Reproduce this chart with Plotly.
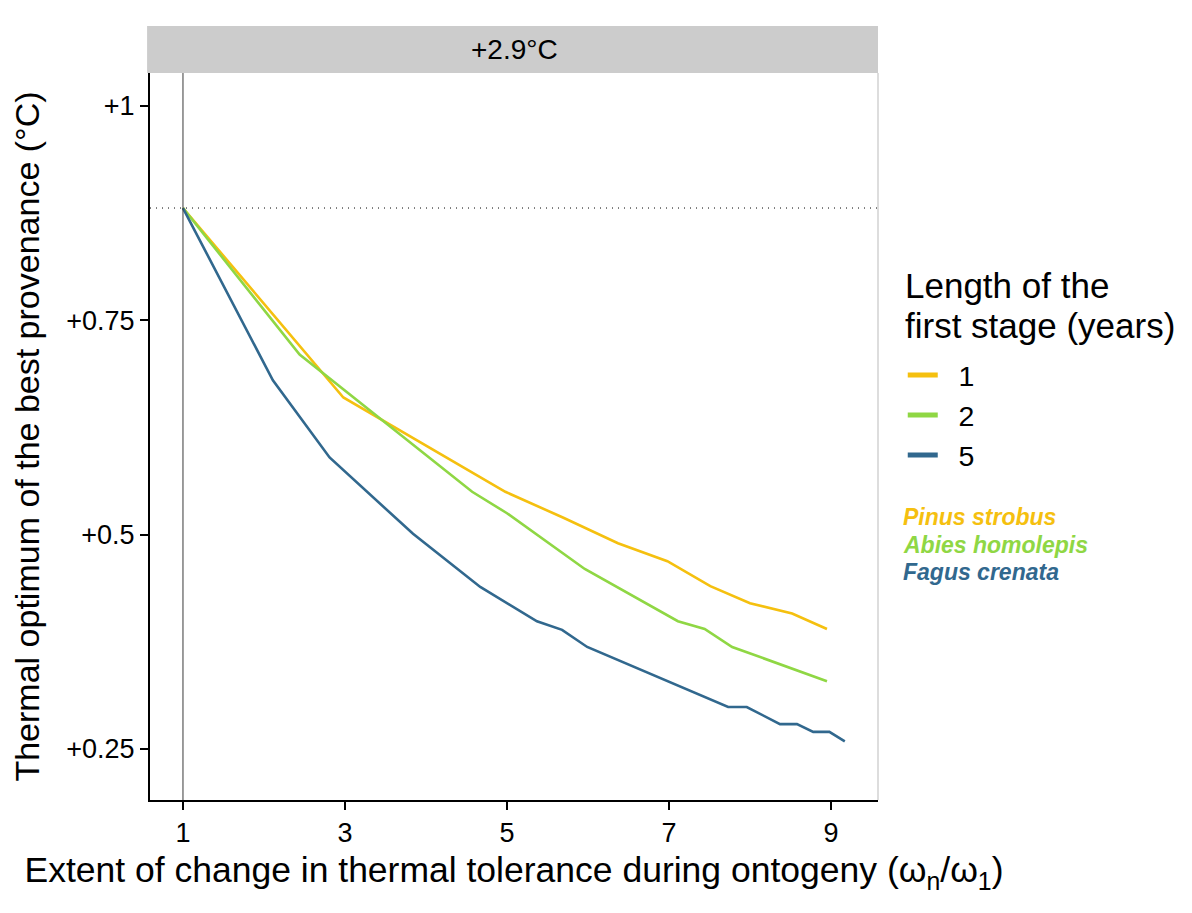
import plotly.graph_objects as go

# Extent of change in thermal tolerance (omega_n / omega_1) and thermal optimum
x_pinus = [1, 2.98, 4.98, 5.69, 6.37, 6.98, 7.51, 8.0, 8.52, 8.95]
y_pinus = [0.881, 0.660, 0.550, 0.520, 0.490, 0.469, 0.440, 0.420, 0.408, 0.390]

x_abies = [1, 2.44, 4.57, 5.0, 5.96, 7.11, 7.44, 7.78, 8.95]
y_abies = [0.881, 0.710, 0.550, 0.525, 0.460, 0.399, 0.390, 0.369, 0.329]

x_fagus = [1, 2.11, 2.81, 3.84, 4.67, 5.37, 5.68, 5.99, 7.73, 7.96, 8.37, 8.58, 8.78, 8.98, 9.17]
y_fagus = [0.881, 0.680, 0.590, 0.501, 0.439, 0.399, 0.389, 0.369, 0.299, 0.299,
           0.279, 0.279, 0.270, 0.270, 0.259]

stage_lengths = ['1', '2', '5']
species = ['Pinus strobus', 'Abies homolepis', 'Fagus crenata']
colors = ['#F5C00F', '#8FD744', '#31688E']

ref_optimum = 0.881
x_ticks = [1, 3, 5, 7, 9]
y_ticks = [1, 0.75, 0.5, 0.25]
y_tick_labels = ['+1', '+0.75', '+0.5', '+0.25']
panel_label = '+2.9°C'
legend_title = ['Length of the', 'first stage (years)']

FONT = 'Liberation Sans, Arial, Helvetica, sans-serif'

fig = go.Figure()

# reference lines
fig.add_vline(x=1, line=dict(color='#3A3A3A', width=1))
fig.add_hline(y=ref_optimum, line=dict(color='black', width=1, dash='1px,5px'))

series = [(x_pinus, y_pinus), (x_abies, y_abies), (x_fagus, y_fagus)]
for (xs, ys), name, col in zip(series, stage_lengths, colors):
    fig.add_trace(go.Scatter(
        x=xs, y=ys, mode='lines', name=name, showlegend=False,
        line=dict(color=col, width=2.6)
    ))
    # legend-only entry with a thicker key
    fig.add_trace(go.Scatter(
        x=[None], y=[None], mode='lines', name='\u00a0\u00a0' + name,
        line=dict(color=col, width=5)
    ))

# facet strip
fig.add_shape(type='rect', xref='paper', yref='paper',
              x0=-0.004, x1=1.0, y0=1.0, y1=1.0646,
              fillcolor='#CCCCCC', line=dict(width=0), layer='below')
fig.add_annotation(text=panel_label, xref='paper', yref='paper',
                   x=0.5, y=1.033, xanchor='center', yanchor='middle',
                   showarrow=False,
                   font=dict(size=28, color='black', family=FONT))

# right panel border
fig.add_shape(type='line', xref='paper', yref='paper',
              x0=1.0, x1=1.0, y0=0, y1=1.0,
              line=dict(color='#DDDDDD', width=2))

# legend title, two lines
for i, line in enumerate(legend_title):
    fig.add_annotation(text=line, xref='paper', yref='paper',
                       x=1.035, y=(515 - 40 * i) / 727,
                       xanchor='left', yanchor='middle', showarrow=False,
                       font=dict(size=35, color='black', family=FONT))

# species labels under the legend
for i, (sp, col) in enumerate(zip(species, colors)):
    fig.add_annotation(text=f'<b><i>{sp}</i></b>', xref='paper', yref='paper',
                       x=1.032, y=(283 - 27.5 * i) / 727,
                       xanchor='left', yanchor='middle', showarrow=False,
                       font=dict(size=23, color=col, family=FONT))

fig.update_layout(
    width=1192, height=913,
    margin=dict(l=142, r=322, t=65, b=121),
    paper_bgcolor='white', plot_bgcolor='white',
    font=dict(family=FONT, color='black'),
    showlegend=True,
    legend=dict(
        font=dict(size=28.5, family=FONT),
        x=1.034, y=0.619, xanchor='left', yanchor='top',
        bgcolor='rgba(0,0,0,0)'
    ),
    xaxis=dict(
        range=[0.593, 9.58], tickvals=x_ticks,
        showgrid=False, zeroline=False,
        showline=True, linecolor='black', linewidth=2,
        ticks='outside', ticklen=8, tickwidth=1.5, tickcolor='black',
        tickfont=dict(size=27, color='black'),
        title=dict(text='Extent of change in thermal tolerance during ontogeny '
                        '(ω<sub>n</sub>/ω<sub>1</sub>)',
                   font=dict(size=35.5, color='black'), standoff=10)
    ),
    yaxis=dict(
        range=[0.1905, 1.0385], tickvals=y_ticks, ticktext=y_tick_labels,
        showgrid=False, zeroline=False,
        showline=True, linecolor='black', linewidth=2,
        ticks='outside', ticklen=8, tickwidth=1.5, tickcolor='black',
        tickfont=dict(size=27, color='black'),
        title=dict(text='Thermal optimum of the best provenance (°C)',
                   font=dict(size=34, color='black'), standoff=18)
    )
)

fig.write_html('out.html')
